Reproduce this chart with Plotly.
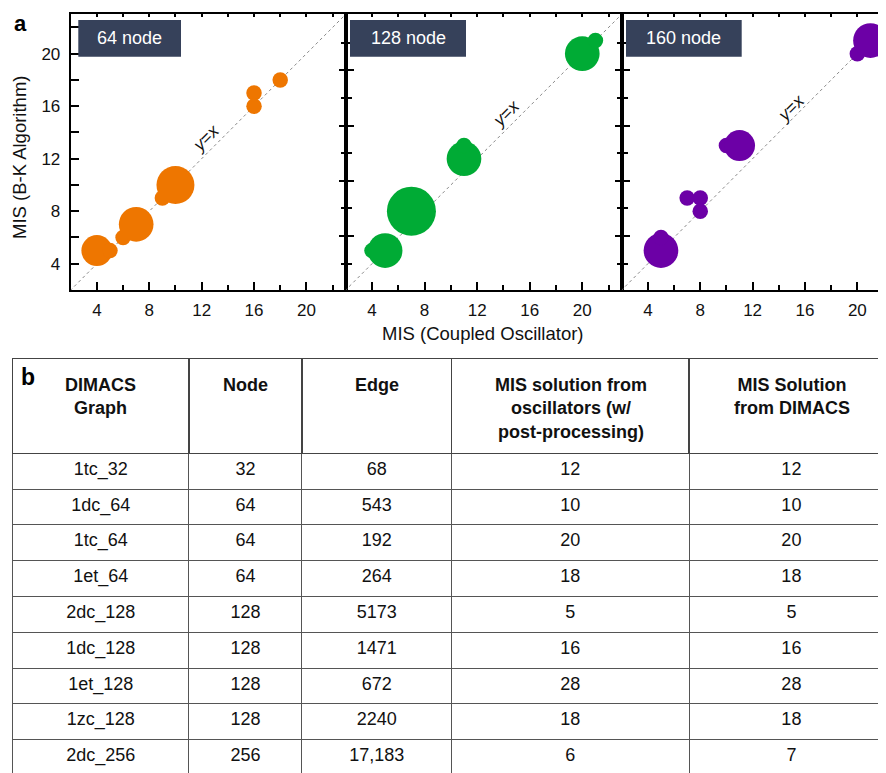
import plotly.graph_objects as go
import numpy as np

# ---------------- data ----------------
panel_titles = ["64 node", "128 node", "160 node"]
panel_colors = ["#EE7600", "#00AB35", "#6C00A6"]

p64_x = [4, 5, 6, 7, 9, 10, 16, 16, 18]
p64_y = [5, 5, 6, 7, 9, 10, 17, 16, 18]
p64_n = [4, 1, 1, 5, 1, 6, 1, 1, 1]

p128_x = [4, 5, 7, 11, 11, 20, 21]
p128_y = [5, 5, 8, 12, 13, 20, 21]
p128_n = [1, 5, 10, 5, 1, 5, 1]

p160_x = [5, 5, 7, 8, 8, 10, 11, 20, 21]
p160_y = [5, 6, 9, 9, 8, 13, 13, 20, 21]
p160_n = [5, 1, 1, 1, 1, 1, 4, 1, 5]

major_ticks = [4, 8, 12, 16, 20]
minor_ticks = [2, 6, 10, 14, 18, 22]

graphs = ["1tc_32", "1dc_64", "1tc_64", "1et_64", "2dc_128", "1dc_128", "1et_128", "1zc_128", "2dc_256"]
nodes = [32, 64, 64, 64, 128, 128, 128, 128, 256]
edges = ["68", "543", "192", "264", "5173", "1471", "672", "2240", "17,183"]
mis_osc = [12, 10, 20, 18, 5, 16, 28, 18, 6]
mis_dimacs = [12, 10, 20, 18, 5, 16, 28, 18, 7]
headers = ["DIMACS<br>Graph", "Node", "Edge",
           "MIS solution from<br>oscillators (w/<br>post-processing)",
           "MIS Solution<br>from DIMACS"]

# ---------------- layout helpers ----------------
W, H = 886, 773
OFF = 8  # page body margin of the html page
def px(x): return (x - OFF) / W
def py(y): return 1 - (y - OFF) / H

FONT = "Liberation Sans, Arial, Helvetica, sans-serif"
x_edges = [70.7, 345.7, 621.7, W + OFF]
y_top, y_bot = 14.3, 290
x_ranges = [[2, 23], [2, 23], [2, 22.8]]
y_range = [2, 23]

series = [(p64_x, p64_y, p64_n), (p128_x, p128_y, p128_n), (p160_x, p160_y, p160_n)]

fig = go.Figure()
layout = dict(width=W, height=H, margin=dict(l=0, r=0, t=0, b=0, autoexpand=False),
              paper_bgcolor="white", plot_bgcolor="white", showlegend=False,
              font=dict(family=FONT, color="#111"))

# odd tick spacing on the left axes of panels 2 and 3
sp = 2.106
shared_major = [4 + sp * k for k in (1, 3, 5, 7)]
shared_minor = [4 + sp * k for k in (0, 2, 4, 6, 8)]

annotations = []
shapes = []
ylab_pos = [(12.3, 13.6), (14.2, 15.5), (14.9, 15.9)]
box_off = [7.6, 4.3, 4.3]
box_w = [102.7, 116, 115.7]

for i in range(3):
    k = "" if i == 0 else str(i + 1)
    xs, ys, ns = series[i]
    sizes = 15.5 * np.sqrt(np.array(ns, dtype=float))
    fig.add_trace(go.Scatter(x=[0, 30], y=[0, 30], mode="lines",
                             line=dict(color="#8a8a8a", width=1, dash="dot"),
                             xaxis="x" + k, yaxis="y" + k, hoverinfo="skip"))
    fig.add_trace(go.Scatter(x=xs, y=ys, mode="markers",
                             marker=dict(size=sizes, sizemode="diameter", color=panel_colors[i],
                                         line=dict(width=0), opacity=1),
                             xaxis="x" + k, yaxis="y" + k, cliponaxis=False))
    xa = dict(domain=[px(x_edges[i]), min(1, px(x_edges[i + 1]))], range=x_ranges[i],
              anchor="y" + k, showgrid=False, zeroline=False, automargin=False,
              showline=True, linecolor="black", linewidth=2, mirror=True,
              ticks="inside", ticklen=8, tickwidth=2, tickcolor="black",
              tickmode="array", tickvals=major_ticks,
              ticktext=[str(v) for v in major_ticks],
              tickfont=dict(size=17, color="#111", family=FONT),
              ticklabelstandoff=4,
              minor=dict(tickmode="array", tickvals=minor_ticks, ticks="inside",
                         ticklen=5, tickwidth=1.5, tickcolor="black"))
    ya = dict(domain=[py(y_bot), py(y_top)], range=y_range, anchor="x" + k,
              showgrid=False, zeroline=False, automargin=False,
              showline=True, linecolor="black", linewidth=2, mirror=True)
    if i == 0:
        ya.update(ticks="inside", ticklen=8, tickwidth=2, tickcolor="black",
                  tickmode="array", tickvals=major_ticks,
                  ticktext=[str(v) for v in major_ticks],
                  tickfont=dict(size=17, color="#111", family=FONT),
                  ticklabelstandoff=5,
                  minor=dict(tickmode="array", tickvals=minor_ticks, ticks="inside",
                             ticklen=8, tickwidth=1.5, tickcolor="black"))
    else:
        ya.update(ticks="inside", ticklen=8, tickwidth=2, tickcolor="black",
                  tickmode="array", tickvals=shared_major, showticklabels=False,
                  minor=dict(tickmode="array", tickvals=shared_minor, ticks="inside",
                             ticklen=6, tickwidth=1.5, tickcolor="black"))
    layout["xaxis" + k] = xa
    layout["yaxis" + k] = ya

    kk = str(4 + i)
    layout["xaxis" + kk] = dict(overlaying="x" + k, anchor="y" + k, side="top",
                                range=x_ranges[i], showgrid=False, zeroline=False,
                                showline=False, ticks="inside", ticklen=3, tickwidth=1.5,
                                tickcolor="black", tickmode="array", automargin=False,
                                tickvals=major_ticks + minor_ticks, showticklabels=False)
    fig.add_trace(go.Scatter(x=[], y=[], xaxis="x" + kk, yaxis="y" + k))

    bx0 = x_edges[i] + box_off[i]
    shapes.append(dict(type="rect", xref="paper", yref="paper",
                       x0=px(bx0), x1=px(bx0 + box_w[i]), y0=py(56.7), y1=py(20),
                       fillcolor="#36415A", line=dict(width=0), layer="above"))
    annotations.append(dict(xref="paper", yref="paper", x=px(bx0 + box_w[i] / 2), y=py(38.3),
                            text=panel_titles[i], showarrow=False,
                            font=dict(size=18, color="white", family=FONT),
                            xanchor="center", yanchor="middle"))
    annotations.append(dict(xref="x" + k, yref="y" + k, x=ylab_pos[i][0], y=ylab_pos[i][1],
                            text="<i>y</i>=<i>x</i>", showarrow=False, textangle=-45,
                            font=dict(size=17.5, color="#111", family=FONT)))

for i, k in ((1, "2"), (2, "3")):
    kk = str(6 + i)
    layout["yaxis" + kk] = dict(overlaying="y" + k, anchor="x" + k, side="left",
                                range=y_range, showgrid=False, zeroline=False, showline=False,
                                ticks="outside", ticklen=6, tickwidth=2, tickcolor="black",
                                tickmode="array", tickvals=shared_major, showticklabels=False,
                                automargin=False,
                                minor=dict(tickmode="array", tickvals=shared_minor,
                                           ticks="outside", ticklen=4, tickwidth=1.5,
                                           tickcolor="black"))
    fig.add_trace(go.Scatter(x=[], y=[], xaxis="x" + k, yaxis="y" + kk))

annotations.append(dict(xref="paper", yref="paper", x=px(483.5), y=py(333.5),
                        text="MIS (Coupled Oscillator)", showarrow=False,
                        font=dict(size=18.5, color="#111", family=FONT),
                        xanchor="center", yanchor="middle"))
annotations.append(dict(xref="paper", yref="paper", x=px(19), y=py(158),
                        text="MIS (B-K Algorithm)", showarrow=False, textangle=-90,
                        font=dict(size=18.5, color="#111", family=FONT),
                        xanchor="center", yanchor="middle"))
annotations.append(dict(xref="paper", yref="paper", x=px(20.5), y=py(8.5),
                        text="<b>a</b>", showarrow=False,
                        font=dict(size=22, color="black", family=FONT),
                        xanchor="center", yanchor="top"))
annotations.append(dict(xref="paper", yref="paper", x=px(28), y=py(377),
                        text="<b>b</b>", showarrow=False,
                        font=dict(size=23, color="black", family=FONT),
                        xanchor="center", yanchor="middle"))

# ---------------- table ----------------
tbl_x0, tbl_top = 12.7, 358.3
col_w = [176.3, 113, 149.7, 237.6, (W + OFF) - 689.3]
fig.add_trace(go.Table(
    domain=dict(x=[px(tbl_x0), 1], y=[0, py(tbl_top)]),
    columnwidth=col_w,
    header=dict(values=["" for h in headers],
                align="center", height=95,
                font=dict(size=18, color="#111", family=FONT),
                fill=dict(color="white"),
                line=dict(color="#444", width=1.5)),
    cells=dict(values=[graphs, nodes, edges, mis_osc, mis_dimacs],
               align="center", height=35.8,
               font=dict(size=18, color="#111", family=FONT),
               fill=dict(color="white"),
               line=dict(color="#555", width=1))
))
edges_x = np.cumsum([tbl_x0] + col_w)
for j, h in enumerate(headers):
    annotations.append(dict(xref="paper", yref="paper",
                            x=px((edges_x[j] + edges_x[j + 1]) / 2), y=py(373),
                            text="<b>%s</b>" % h, showarrow=False, align="center",
                            xanchor="center", yanchor="top",
                            font=dict(size=18, color="#111", family=FONT)))

layout["annotations"] = annotations
layout["shapes"] = shapes
fig.update_layout(**layout)
fig.write_html("out.html")
